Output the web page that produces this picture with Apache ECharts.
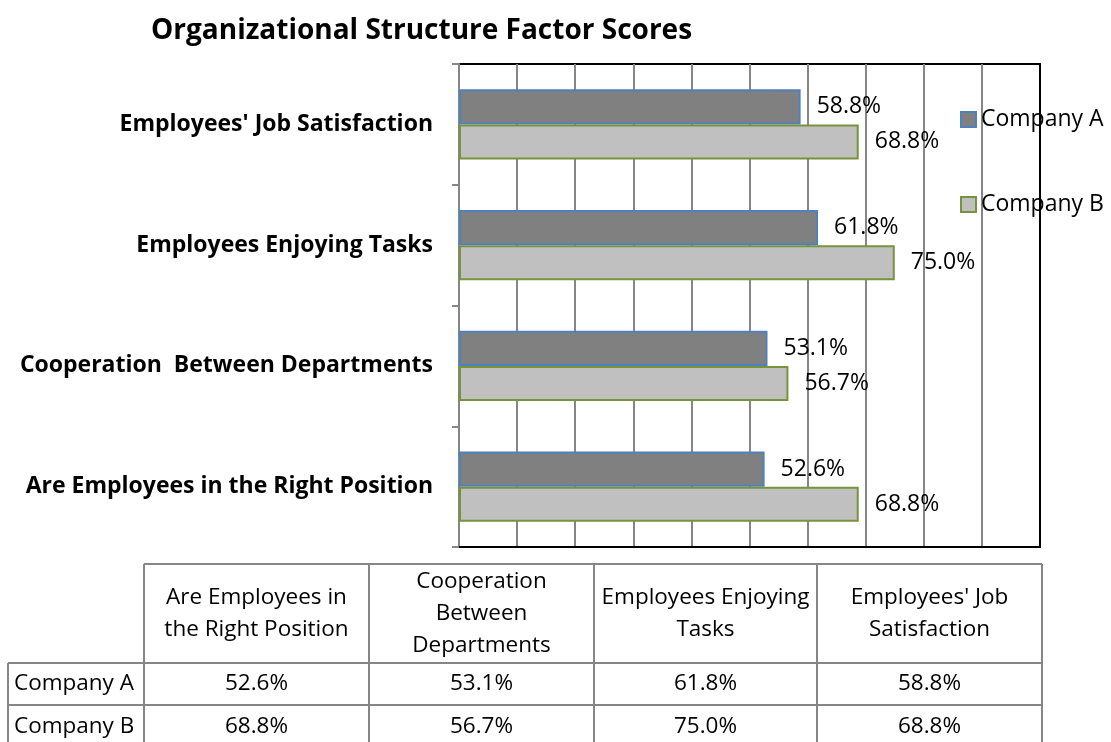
<!DOCTYPE html>
<html lang="en">
  <head>
    <meta charset="UTF-8" />
    <title>Organizational Structure Factor Scores</title>
    <script src="https://cdn.jsdelivr.net/npm/echarts@6/dist/echarts.min.js"></script>
    <style>
      html, body { margin: 0; padding: 0; background: #fff; }
      #main { width: 1111px; height: 742px; }
    </style>
  </head>
  <body>
    <div id="main"></div>

    <script>
      const categories = [
        'Are Employees in the Right Position',
        'Cooperation  Between Departments',
        'Employees Enjoying Tasks',
        "Employees' Job Satisfaction",
      ];
      const tableHeaders = [
        'Are Employees in\nthe Right Position',
        'Cooperation\nBetween\nDepartments',
        'Employees Enjoying\nTasks',
        "Employees' Job\nSatisfaction",
      ];
      const companyA = [52.6, 53.1, 61.8, 58.8];
      const companyB = [68.8, 56.7, 75.0, 68.8];
      const seriesNames = ['Company A', 'Company B'];

      const FONT = '"Open Sans", "DejaVu Sans", sans-serif';
      const GRID_LINE = '#868686';
      const pct = (v) => v.toFixed(1) + '%';

      // table layout (pixels)
      const colX = [8, 144, 369, 594, 817, 1042];
      const rowY = [564, 663, 705, 748];

      function buildTable() {
        const els = [];
        const line = (x1, y1, x2, y2) => ({
          type: 'line',
          shape: { x1, y1, x2, y2 },
          style: { stroke: GRID_LINE, lineWidth: 2 },
        });
        const text = (x, y, str, align) => ({
          type: 'text',
          x,
          y,
          style: {
            text: str,
            font: '22.5px ' + FONT,
            fill: '#000',
            align: align || 'center',
            verticalAlign: 'middle',
            lineHeight: 32,
          },
        });
        // horizontal lines
        els.push(line(colX[1], rowY[0], colX[5], rowY[0]));
        els.push(line(colX[0], rowY[1], colX[5], rowY[1]));
        els.push(line(colX[0], rowY[2], colX[5], rowY[2]));
        // vertical lines
        els.push(line(colX[0], rowY[1], colX[0], rowY[3]));
        for (let i = 1; i < colX.length; i++) {
          els.push(line(colX[i], rowY[0], colX[i], rowY[3]));
        }
        // header cells
        tableHeaders.forEach((h, i) => {
          els.push(text((colX[i + 1] + colX[i + 2]) / 2, (rowY[0] + rowY[1]) / 2, h));
        });
        // data rows
        [companyA, companyB].forEach((vals, r) => {
          const cy = (rowY[r + 1] + rowY[r + 2]) / 2;
          els.push(text(colX[0] + 6, cy, seriesNames[r], 'left'));
          vals.forEach((v, i) => {
            els.push(text((colX[i + 1] + colX[i + 2]) / 2, cy, pct(v)));
          });
        });
        return els;
      }

      const labelStyle = {
        show: true,
        position: 'right',
        distance: 16,
        color: '#000',
        fontFamily: FONT,
        fontSize: 23,
        formatter: (p) => pct(p.value),
      };

      const options = {
        animation: false,
        backgroundColor: '#fff',
        title: {
          text: 'Organizational Structure Factor Scores',
          left: 146,
          top: 12,
          textStyle: {
            fontFamily: FONT,
            fontSize: 28,
            fontWeight: 'bold',
            color: '#000',
          },
        },
        legend: {
          data: seriesNames,
          orient: 'vertical',
          left: 955,
          top: 103,
          icon: 'rect',
          itemWidth: 15,
          itemHeight: 15,
          itemGap: 62,
          textStyle: { fontFamily: FONT, fontSize: 23, color: '#000' },
        },
        grid: {
          left: 459,
          right: 71,
          top: 64,
          bottom: 195,
          show: true,
          borderColor: '#000',
          borderWidth: 2,
        },
        xAxis: {
          type: 'value',
          min: 0,
          max: 100,
          interval: 10,
          axisLine: { show: true, lineStyle: { color: '#000', width: 2 } },
          axisTick: { show: false },
          axisLabel: { show: false },
          splitLine: {
            show: true,
            showMinLine: false,
            showMaxLine: false,
            lineStyle: { color: GRID_LINE, width: 2 },
          },
        },
        yAxis: {
          type: 'category',
          data: categories,
          axisLine: { show: true, lineStyle: { color: GRID_LINE, width: 2 } },
          axisTick: { show: true, length: 7, lineStyle: { color: GRID_LINE, width: 2 } },
          axisLabel: {
            margin: 26,
            color: '#000',
            fontFamily: FONT,
            fontSize: 23,
            fontWeight: 'bold',
          },
        },
        series: [
          {
            name: 'Company A',
            type: 'bar',
            data: companyA,
            barGap: '0%',
            barCategoryGap: '42%',
            itemStyle: { color: '#808080', borderColor: '#4F81BD', borderWidth: 2 },
            label: labelStyle,
          },
          {
            name: 'Company B',
            type: 'bar',
            data: companyB,
            barGap: '0%',
            barCategoryGap: '42%',
            itemStyle: { color: '#C0C0C0', borderColor: '#77933C', borderWidth: 2 },
            label: labelStyle,
          },
        ],
        graphic: buildTable(),
      };

      const myChart = echarts.init(document.getElementById('main'));
      myChart.setOption(options);
    </script>
  </body>
</html>
